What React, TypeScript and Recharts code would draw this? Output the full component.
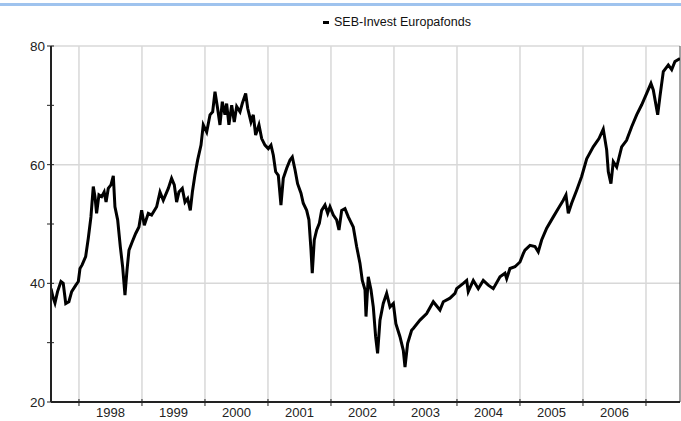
import { LineChart, Line, XAxis, YAxis, CartesianGrid, ReferenceLine } from 'recharts';

// time as decimal years, fund price
const years = [
  1997.556, 1997.587, 1997.619, 1997.66, 1997.714, 1997.75, 1997.79, 1997.84, 1997.884, 1997.95,
  1997.99, 1998.016, 1998.05, 1998.106, 1998.148, 1998.19, 1998.227, 1998.254, 1998.28, 1998.317,
  1998.36, 1998.4, 1998.43, 1998.465, 1998.508, 1998.545, 1998.571, 1998.614, 1998.656, 1998.693,
  1998.73, 1998.762, 1998.794, 1998.846, 1998.9, 1998.952, 1998.995, 1999.037, 1999.1, 1999.153,
  1999.233, 1999.286, 1999.338, 1999.418, 1999.47, 1999.513, 1999.55, 1999.587, 1999.64, 1999.683,
  1999.725, 1999.767, 1999.8, 1999.84, 1999.884, 1999.937, 1999.973, 2000.027, 2000.08, 2000.122,
  2000.159, 2000.2, 2000.238, 2000.275, 2000.317, 2000.344, 2000.38, 2000.424, 2000.465, 2000.503,
  2000.556, 2000.592, 2000.646, 2000.678, 2000.73, 2000.767, 2000.804, 2000.857, 2000.9, 2000.952,
  2001.005, 2001.048, 2001.085, 2001.122, 2001.164, 2001.206, 2001.243, 2001.297, 2001.35, 2001.386,
  2001.43, 2001.47, 2001.524, 2001.56, 2001.614, 2001.65, 2001.683, 2001.703, 2001.735, 2001.773,
  2001.815, 2001.852, 2001.905, 2001.948, 2001.984, 2002.037, 2002.09, 2002.127, 2002.17, 2002.222,
  2002.275, 2002.354, 2002.407, 2002.46, 2002.497, 2002.54, 2002.556, 2002.592, 2002.635, 2002.672,
  2002.709, 2002.74, 2002.778, 2002.83, 2002.884, 2002.937, 2002.99, 2003.03, 2003.095, 2003.148,
  2003.175, 2003.217, 2003.28, 2003.306, 2003.413, 2003.519, 2003.624, 2003.73, 2003.783, 2003.889,
  2003.968, 2003.995, 2004.1, 2004.154, 2004.179, 2004.259, 2004.338, 2004.417, 2004.497, 2004.576,
  2004.683, 2004.762, 2004.789, 2004.841, 2004.92, 2005.0, 2005.052, 2005.079, 2005.159, 2005.238,
  2005.29, 2005.344, 2005.424, 2005.529, 2005.608, 2005.687, 2005.73, 2005.767, 2005.82, 2005.9,
  2005.979, 2006.059, 2006.163, 2006.254, 2006.322, 2006.376, 2006.402, 2006.444, 2006.481, 2006.535,
  2006.614, 2006.692, 2006.773, 2006.852, 2006.932, 2007.011, 2007.079, 2007.116, 2007.186, 2007.222,
  2007.275, 2007.354, 2007.408, 2007.46, 2007.54,
];

const values = [
  39.1, 37.7, 36.7, 38.6, 40.3, 40.0, 36.6, 36.9, 38.6, 39.7,
  40.3, 42.5, 43.1, 44.5, 47.6, 51.2, 56.3, 54.6, 51.8, 54.9,
  54.6, 55.4, 53.7, 56.0, 56.6, 58.1, 52.9, 50.7, 46.2, 42.8,
  38.0, 42.2, 45.6, 47.0, 48.4, 49.5, 52.3, 49.8, 51.8, 51.5,
  52.9, 55.4, 54.0, 56.0, 57.7, 56.6, 53.7, 55.4, 56.0, 53.7,
  54.3, 52.3, 55.4, 58.2, 60.8, 63.3, 66.7, 65.5, 68.4, 68.9,
  72.3, 69.5, 66.7, 70.6, 68.4, 70.3, 66.7, 70.0, 67.2, 69.8,
  68.9, 70.3, 72.0, 69.5, 67.2, 68.4, 65.0, 66.7, 64.4, 63.3,
  62.7, 63.3, 61.6, 58.8, 58.2, 53.2, 57.7, 59.4, 60.8, 61.3,
  59.1, 56.8, 55.2, 53.5, 52.3, 50.7, 45.6, 41.7, 47.3, 49.0,
  50.1, 52.3, 53.2, 51.8, 52.9, 51.5, 50.7, 49.0, 52.3, 52.6,
  51.2, 49.5, 46.2, 43.4, 40.5, 38.9, 34.4, 41.1, 38.9, 36.0,
  31.0, 28.2, 33.8, 36.6, 38.3, 36.0, 36.6, 33.2, 31.0, 28.7,
  25.9, 29.9, 32.1, 32.4, 33.8, 34.9, 36.9, 35.5, 36.9, 37.5,
  38.3, 39.1, 40.0, 40.5, 38.6, 40.5, 39.1, 40.5, 39.7, 39.1,
  41.1, 41.7, 40.8, 42.5, 42.8, 43.6, 45.0, 45.6, 46.4, 46.2,
  45.3, 47.3, 49.3, 51.2, 52.6, 54.0, 54.9, 51.8, 53.5, 55.7,
  58.0, 61.0, 63.0, 64.4, 66.0, 62.5, 58.8, 56.8, 60.5, 59.6,
  63.0, 64.1, 66.4, 68.4, 70.1, 72.0, 73.7, 72.6, 68.4, 71.5,
  75.7, 76.8, 76.0, 77.4, 77.9,
];

const yearTicks = [1998, 1999, 2000, 2001, 2002, 2003, 2004, 2005, 2006, 2007];
const valueTicks = [20, 30, 40, 50, 60, 70, 80];
const labelledValues = [20, 40, 60, 80];
const gridValues = [40, 60, 80];
const seriesName = 'SEB-Invest Europafonds';

const data = years.map((t, i) => ({ t, v: values[i] }));

const font = '"Liberation Sans", Arial, sans-serif';

function YTick(props: any) {
  const { x, y, payload } = props;
  const v = payload.value;
  return (
    <g>
      <line x1={x - 4} x2={x + 3} y1={y} y2={y} stroke="#222" strokeWidth={1} />
      {labelledValues.includes(v) && (
        <text x={x - 6} y={y + 5} textAnchor="end" fontSize={13.5} fontFamily={font} fill="#222">
          {v}
        </text>
      )}
    </g>
  );
}

function XTick(props: any) {
  const { x, y, payload } = props;
  const v = payload.value;
  return (
    <g>
      <line x1={x} x2={x} y1={y - 3} y2={y + 4} stroke="#222" strokeWidth={1} />
      {v < 2007 && (
        <text x={x + 31.5} y={y + 15} textAnchor="middle" fontSize={13} fontFamily={font} fill="#222">
          {v}
        </text>
      )}
    </g>
  );
}

export default function App() {
  return (
    <div style={{ position: 'absolute', left: 0, top: 0, width: 681, height: 421, background: '#fff', fontFamily: font }}>
      <LineChart width={681} height={421} data={data} margin={{ top: 46, right: 1, bottom: 0, left: 0 }}>
        <CartesianGrid
          stroke="#d8d8d8"
          strokeWidth={1.5}
          horizontalValues={gridValues}
          verticalValues={yearTicks}
        />
        <XAxis
          dataKey="t"
          type="number"
          domain={[1997.556, 2007.54]}
          ticks={yearTicks}
          height={19}
          tickLine={false}
          tickSize={0}
          tickMargin={0}
          interval={0}
          allowDataOverflow
          axisLine={{ stroke: '#222', strokeWidth: 2 }}
          tick={<XTick />}
        />
        <YAxis
          type="number"
          domain={[20, 80]}
          ticks={valueTicks}
          width={51}
          tickLine={false}
          tickSize={0}
          tickMargin={0}
          interval={0}
          axisLine={{ stroke: '#222', strokeWidth: 2 }}
          tick={<YTick />}
        />
        <ReferenceLine x={2007.54} stroke="#444" strokeWidth={1} />
        <Line
          dataKey="v"
          type="linear"
          stroke="#000"
          strokeWidth={3}
          strokeLinejoin="miter"
          dot={false}
          isAnimationActive={false}
        />
      </LineChart>
      <div style={{ position: 'absolute', left: 0, top: 3, width: 681, height: 3, background: '#9fc3ee', zIndex: 5 }} />
      <div style={{ position: 'absolute', left: 323, top: 15, display: 'flex', alignItems: 'center', fontSize: 12.5, color: '#111', zIndex: 5 }}>
        <span style={{ display: 'inline-block', width: 6, height: 3, background: '#000', marginRight: 5 }} />
        <span>{seriesName}</span>
      </div>
    </div>
  );
}
